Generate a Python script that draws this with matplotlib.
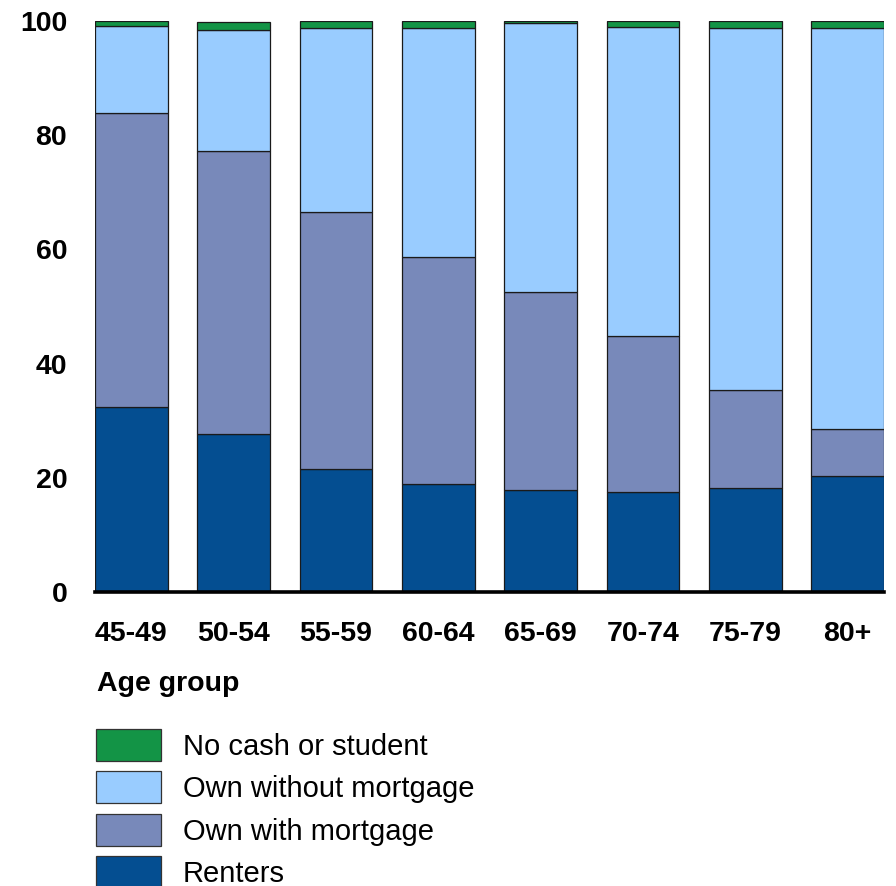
import matplotlib
matplotlib.use("Agg")
import matplotlib.pyplot as plt
import numpy as np

plt.rcParams['font.family'] = ['Liberation Sans', 'DejaVu Sans']

age_groups = ['45-49', '50-54', '55-59', '60-64', '65-69', '70-74', '75-79', '80+']
renters = [32.4, 27.7, 21.5, 18.9, 17.9, 17.5, 18.3, 20.4]
own_with_mortgage = [51.5, 49.5, 45.0, 39.8, 34.6, 27.3, 17.1, 8.1]
own_without_mortgage = [15.2, 21.3, 32.3, 40.1, 47.2, 54.2, 63.4, 70.3]
no_cash_or_student = [0.9, 1.3, 1.2, 1.2, 0.3, 1.0, 1.2, 1.2]

series = [
    ('Renters', renters, '#044E91'),
    ('Own with mortgage', own_with_mortgage, '#7889BA'),
    ('Own without mortgage', own_without_mortgage, '#99CCFF'),
    ('No cash or student', no_cash_or_student, '#139446'),
]

fig = plt.figure(figsize=(8.96, 8.86), dpi=100)
ax = fig.add_axes([95 / 896, 1 - 592 / 886, (884 - 95) / 896, (592 - 21) / 886])

x = np.arange(len(age_groups))
width = 0.71
bottom = np.zeros(len(age_groups))
handles = []
for label, vals, color in series:
    vals = np.array(vals)
    bars = ax.bar(x, vals, width, bottom=bottom, color=color,
                  edgecolor='#1a1a1a', linewidth=0.9, label=label)
    handles.append(bars)
    bottom += vals

ax.set_xlim(-width / 2, len(age_groups) - 1 + width / 2)
ax.set_ylim(0, 100)
ax.set_yticks([0, 20, 40, 60, 80, 100])
ax.set_xticks(x)
ax.set_xticklabels(age_groups)

for side in ['left', 'top', 'right']:
    ax.spines[side].set_visible(False)
ax.spines['bottom'].set_linewidth(2.6)
ax.spines['bottom'].set_zorder(5)

ax.tick_params(axis='y', length=0, pad=20, labelsize=20.5)
ax.tick_params(axis='x', length=0, pad=21, labelsize=20.5)
for lbl in ax.get_xticklabels() + ax.get_yticklabels():
    lbl.set_fontweight('bold')

fig.text(97 / 896, 1 - 684 / 886, 'Age group', fontsize=20.5,
         fontweight='bold', va='center', ha='left')

leg = fig.legend(handles[::-1], [s[0] for s in series][::-1],
                 loc='upper left', bbox_to_anchor=(96 / 896, 1 - 729 / 886),
                 frameon=False, fontsize=21, borderpad=0, borderaxespad=0,
                 handlelength=2.23, handleheight=1.31, labelspacing=0.36,
                 handletextpad=0.75)
for patch in leg.get_patches():
    patch.set_edgecolor('#333333')

fig.savefig('out.png', dpi=100)
